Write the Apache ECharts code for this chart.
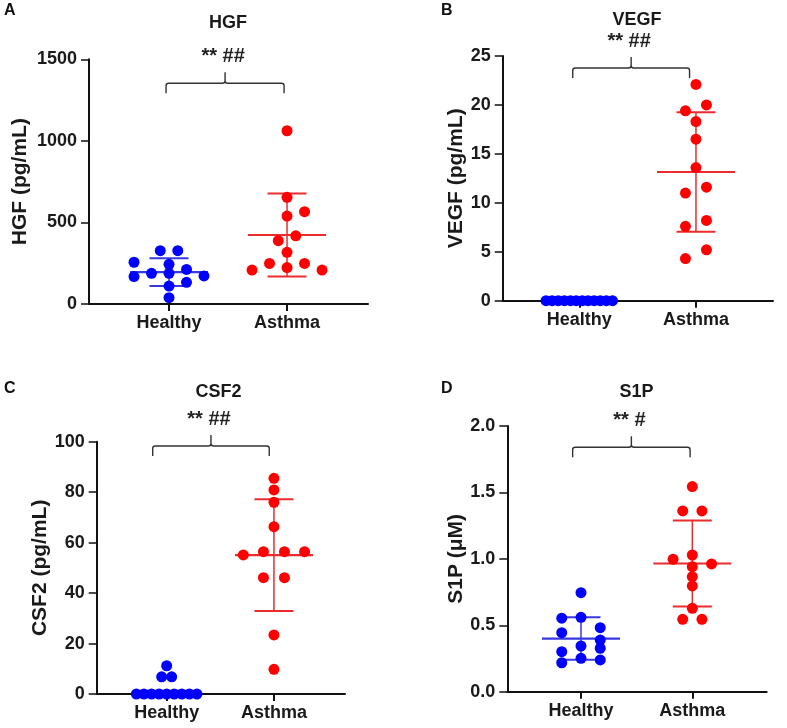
<!DOCTYPE html>
<html><head><meta charset="utf-8">
<script src="https://cdn.jsdelivr.net/npm/echarts@6/dist/echarts.min.js"></script>
<style>html,body{margin:0;padding:0;background:#fff}#c{width:787px;height:728px}</style>
</head><body><div id="c"></div>
<script>
// ---------- data ----------
const categories = ['Healthy', 'Asthma'];
const panelLetters = ['A', 'B', 'C', 'D'];
const panelTitles = ['HGF', 'VEGF', 'CSF2', 'S1P'];
const yNames = ['HGF (pg/mL)', 'VEGF (pg/mL)', 'CSF2 (pg/mL)', 'S1P (\u03bcM)'];
const yMax = [1500, 25, 100, 2];
const yInterval = [500, 5, 20, 0.5];
const sigLabels = ['** ##', '** ##', '** ##', '** #'];

const hgfHealthy = [327, 327, 256, 243, 188, 188, 168, 212, 172, 133, 110, 39];
const hgfHealthySlots = [-1, 1, -4, 0, -2, 0, -4, 2, 4, 2, 0, 0];
const hgfAsthma = [1062, 654, 566, 539, 388, 418, 317, 249, 249, 223, 208, 208];
const hgfAsthmaSlots = [0, 0, 2, 0, -1, 1, 0, -2, 2, 0, -4, 4];
const hgfMean = [195, 423];
const hgfSD = [85, 255];

const vegfHealthy = [0, 0, 0, 0, 0, 0, 0, 0, 0, 0, 0, 0];
const vegfHealthySlots = [-3.8, -3.1, -2.4, -1.7, -1.0, -0.35, 0.35, 1.0, 1.7, 2.4, 3.1, 3.8];
const vegfAsthma = [22.1, 20.0, 19.4, 18.3, 16.5, 13.6, 11.6, 11.0, 8.2, 7.6, 5.2, 4.3];
const vegfAsthmaSlots = [0, 1.2, -1.2, 0, 0, 0, 1.2, -1.2, 1.2, -1.2, 1.2, -1.2];
const vegfMean = [null, 13.15];
const vegfSD = [null, 6.1];

const csf2Healthy = [11.2, 6.8, 6.8, 0, 0, 0, 0, 0, 0, 0, 0, 0];
const csf2HealthySlots = [0, -0.57, 0.57, -3.46, -2.6, -1.73, -0.86, 0, 0.86, 1.73, 2.6, 3.46];
const csf2Asthma = [85.5, 80.9, 76.0, 66.3, 55.1, 56.4, 56.4, 56.4, 46.1, 46.1, 23.4, 9.8];
const csf2AsthmaSlots = [0, 0, 0, 0, -3.5, -1.2, 1.2, 3.5, -1.2, 1.2, 0, 0];
const csf2Mean = [null, 55.05];
const csf2SD = [null, 22.15];

const s1pHealthy = [0.745, 0.553, 0.560, 0.482, 0.444, 0.389, 0.344, 0.327, 0.301, 0.251, 0.239, 0.218];
const s1pHealthySlots = [0, -2.2, 0, 2.2, -2.2, 2.2, 0, 2.2, -2.2, 0, 2.2, -2.2];
const s1pAsthma = [1.544, 1.361, 1.361, 0.997, 1.029, 0.962, 0.941, 0.866, 0.796, 0.628, 0.545, 0.545];
const s1pAsthmaSlots = [0, -1.1, 1.1, -2.2, 0, 2.2, 0, 0, 0, 0, -1.1, 1.1];
const s1pMean = [0.40, 0.965];
const s1pSD = [0.16, 0.324];

const panelsData = [
  {h: hgfHealthy, hs: hgfHealthySlots, a: hgfAsthma, as: hgfAsthmaSlots, mean: hgfMean, sd: hgfSD},
  {h: vegfHealthy, hs: vegfHealthySlots, a: vegfAsthma, as: vegfAsthmaSlots, mean: vegfMean, sd: vegfSD},
  {h: csf2Healthy, hs: csf2HealthySlots, a: csf2Asthma, as: csf2AsthmaSlots, mean: csf2Mean, sd: csf2SD},
  {h: s1pHealthy, hs: s1pHealthySlots, a: s1pAsthma, as: s1pAsthmaSlots, mean: s1pMean, sd: s1pSD}
];

// ---------- layout / style ----------
const FONT = '"Liberation Sans", Arial, Helvetica, sans-serif';
const BLUE = '#0000fe', RED = '#fe0000';
const BLUE_LINE = '#3838e0', RED_LINE = '#ec2c2c';
const SLOT_PX = 8.75;
const layout = [
  {left: 89, top: 59.3, width: 279, height: 244.7, xmin: 0.322, xmax: 2.686, nameGap: 58, bracketFrac: 0.902, bx: [0.975, 1.975], letter: [10, 12], title: [228, 23]},
  {left: 502.7, top: 56, width: 270.3, height: 244.7, xmin: 0.344, xmax: 2.66, nameGap: 36, bracketFrac: 0.951, bx: [0.944, 1.945], letter: [447, 12], title: [637, 20]},
  {left: 96.7, top: 441.7, width: 248.3, height: 252.3, xmin: 0.348, xmax: 2.662, nameGap: 44, bracketFrac: 0.983, bx: [0.87, 1.956], letter: [10, 390], title: [218.5, 392]},
  {left: 507.3, top: 426, width: 259.4, height: 265.7, xmin: 0.338, xmax: 2.668, nameGap: 41, bracketFrac: 0.92, bx: [0.925, 1.98], letter: [447, 390], title: [636.5, 392]}
];

const grids = [], xAxes = [], yAxes = [], series = [], graphics = [];

layout.forEach((L, i) => {
  const D = panelsData[i];
  grids.push({left: L.left, top: L.top, width: L.width, height: L.height, containLabel: false, outerBoundsMode: 'none'});
  xAxes.push({
    gridIndex: i, type: 'value', min: L.xmin, max: L.xmax,
    splitLine: {show: false},
    axisLine: {show: true, onZero: false, lineStyle: {color: '#111', width: 2}},
    axisTick: {show: true, customValues: [1, 2], length: 7, lineStyle: {color: '#111', width: 2}},
    axisLabel: {show: true, customValues: [1, 2], formatter: v => categories[Math.round(v) - 1] || '',
      color: '#1a1a1a', fontFamily: FONT, fontWeight: 'bold', fontSize: 18, margin: 10}
  });
  yAxes.push({
    gridIndex: i, type: 'value', min: 0, max: yMax[i], interval: yInterval[i],
    name: yNames[i], nameLocation: 'middle', nameGap: L.nameGap,
    nameTextStyle: {color: '#1a1a1a', fontFamily: FONT, fontWeight: 'bold', fontSize: 21},
    splitLine: {show: false},
    axisLine: {show: true, lineStyle: {color: '#111', width: 2}},
    axisTick: {show: true, length: 8, lineStyle: {color: '#111', width: 1.5}},
    axisLabel: {color: '#1a1a1a', fontFamily: FONT, fontWeight: 'bold', fontSize: 18, margin: 12,
      formatter: v => (yInterval[i] < 1 ? v.toFixed(1) : String(v))}
  });
  const pxPerUnit = L.width / (L.xmax - L.xmin);
  const slotU = SLOT_PX / pxPerUnit;

  // error bars (mean ± SD)
  const errData = [];
  D.mean.forEach((m, k) => { if (m !== null) errData.push([k + 1, m, D.sd[k]]); });
  series.push({
    type: 'custom', xAxisIndex: i, yAxisIndex: i, z: 1, silent: true,
    data: errData, encode: {x: 0, y: 1},
    renderItem: (params, api) => {
      const x = api.value(0), m = api.value(1), s = api.value(2);
      const c = api.coord([x, m]), t = api.coord([x, m + s]), b = api.coord([x, m - s]);
      const col = x === 1 ? BLUE_LINE : RED_LINE;
      const st = w => ({stroke: col, lineWidth: w});
      return {type: 'group', children: [
        {type: 'line', shape: {x1: t[0], y1: t[1], x2: b[0], y2: b[1]}, style: st(1.5)},
        {type: 'line', shape: {x1: t[0] - 19.5, y1: t[1], x2: t[0] + 19.5, y2: t[1]}, style: st(2)},
        {type: 'line', shape: {x1: b[0] - 19.5, y1: b[1], x2: b[0] + 19.5, y2: b[1]}, style: st(2)},
        {type: 'line', shape: {x1: c[0] - 39, y1: c[1], x2: c[0] + 39, y2: c[1]}, style: st(2.2)}
      ]};
    }
  });

  series.push({
    type: 'scatter', xAxisIndex: i, yAxisIndex: i, z: 3, symbol: 'circle', symbolSize: 11,
    itemStyle: {color: BLUE, opacity: 1},
    data: D.h.map((v, k) => [1 + D.hs[k] * slotU, v])
  });
  series.push({
    type: 'scatter', xAxisIndex: i, yAxisIndex: i, z: 3, symbol: 'circle', symbolSize: 11,
    itemStyle: {color: RED, opacity: 1},
    data: D.a.map((v, k) => [2 + D.as[k] * slotU, v])
  });

  // significance bracket
  const by = yMax[i] * L.bracketFrac;
  series.push({
    type: 'custom', xAxisIndex: i, yAxisIndex: i, z: 2, silent: true, clip: false,
    data: [[L.bx[0], L.bx[1], by]],
    renderItem: (params, api) => {
      const p1 = api.coord([api.value(0), api.value(2)]);
      const p2 = api.coord([api.value(1), api.value(2)]);
      const y = p1[1], cx = (p1[0] + p2[0]) / 2, r = 2.5;
      const path = `M${p1[0]},${y + 10} L${p1[0]},${y + r} Q${p1[0]},${y} ${p1[0] + r},${y} L${cx - r},${y} Q${cx},${y} ${cx},${y - r} L${cx},${y - 11} M${cx},${y - r} Q${cx},${y} ${cx + r},${y} L${p2[0] - r},${y} Q${p2[0]},${y} ${p2[0]},${y + r} L${p2[0]},${y + 10}`;
      return {type: 'group', children: [
        {type: 'path', shape: {pathData: path}, style: {stroke: '#333', lineWidth: 1.4, fill: null}},
        {type: 'text', x: cx - 2, y: y - 27, style: {text: sigLabels[i], fill: '#222', font: 'bold 20px ' + FONT, align: 'center', verticalAlign: 'middle'}}
      ]};
    }
  });

  graphics.push({type: 'text', left: L.letter[0] - 6, top: L.letter[1] - 9,
    style: {text: panelLetters[i], fill: '#111', font: 'bold 16px ' + FONT}});
  graphics.push({type: 'text', x: L.title[0], y: L.title[1],
    style: {text: panelTitles[i], fill: '#1a1a1a', font: 'bold 18px ' + FONT, align: 'center', verticalAlign: 'middle'}});
});

const chart = echarts.init(document.getElementById('c'), null, {renderer: 'canvas'});
chart.setOption({
  backgroundColor: '#fff',
  animation: false,
  grid: grids, xAxis: xAxes, yAxis: yAxes, series: series, graphic: graphics
});
</script></body></html>
